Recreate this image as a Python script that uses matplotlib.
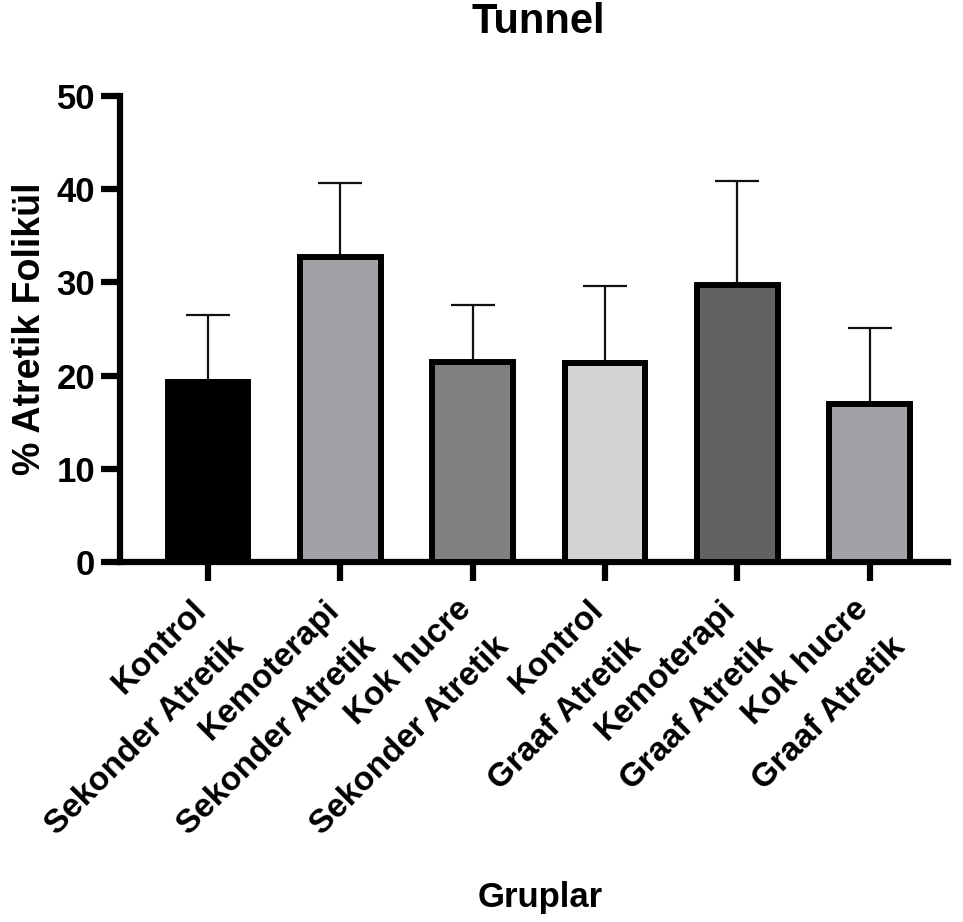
import numpy as np
import matplotlib.pyplot as plt
import matplotlib.transforms as mtransforms

plt.rcParams['font.family'] = ['Liberation Sans', 'DejaVu Sans']
plt.rcParams['font.weight'] = 'bold'

groups = ['Kontrol\nSekonder Atretik', 'Kemoterapi\nSekonder Atretik', 'Kok hucre\nSekonder Atretik',
          'Kontrol\nGraaf Atretik', 'Kemoterapi\nGraaf Atretik', 'Kok hucre\nGraaf Atretik']
means = [19.3, 32.7, 21.5, 21.3, 29.7, 16.9]
sd = [7.2, 8.0, 6.1, 8.3, 11.2, 8.2]
colors = ['#000000', '#a2a1a6', '#808080', '#d4d4d4', '#626262', '#a2a1a6']

fig = plt.figure(figsize=(9.63, 9.22), dpi=100)
ax = fig.add_axes([0.1246, 0.3905, 0.8594, 0.5054])

x = np.arange(len(groups))
ax.bar(x, means, width=0.61, color=colors, edgecolor='black', linewidth=4.3, zorder=3)
ax.errorbar(x, means, yerr=[np.zeros(len(sd)), sd], fmt='none', ecolor='#111111',
            elinewidth=1.6, capsize=15.5, capthick=1.6, zorder=2)

ax.set_xlim(-0.665, 5.59)
ax.set_ylim(0, 50)
ax.set_yticks([0, 10, 20, 30, 40, 50])
ax.set_xticks(x)
ax.set_xticklabels([])

# rotated group labels, placed by hand so they sit a little left of the ticks
lab_tr = ax.get_xaxis_transform() + mtransforms.ScaledTranslation(-0.17, -0.32, fig.dpi_scale_trans)
for xi, g in zip(x, groups):
    ax.text(xi, 0, g, transform=lab_tr, rotation=45, ha='right', va='top',
            rotation_mode='anchor', fontsize=24, fontweight='bold',
            multialignment='right', linespacing=1.9, clip_on=False)

for s in ['top', 'right']:
    ax.spines[s].set_visible(False)
for s in ['left', 'bottom']:
    ax.spines[s].set_linewidth(4.5)
ax.tick_params(axis='both', length=14, width=4.5)
ax.tick_params(axis='y', labelsize=25, pad=4)
for t in ax.get_yticklabels():
    t.set_fontweight('bold')

ax.set_ylabel('% Atretik Folikül', fontsize=27, fontweight='bold', labelpad=6)
fig.text(0.5607, 0.0163, 'Gruplar', ha='center', va='baseline', fontsize=25, fontweight='bold')
fig.text(0.5587, 0.976, 'Tunnel', ha='center', va='center', fontsize=30, fontweight='bold')

fig.savefig('out.png', dpi=100)
